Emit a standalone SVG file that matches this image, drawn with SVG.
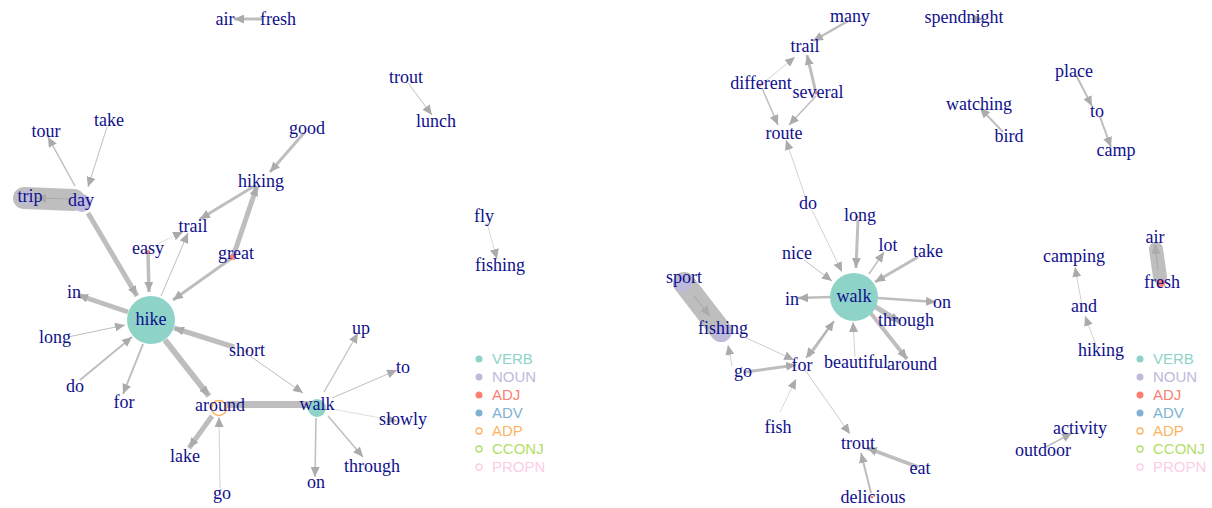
<svg xmlns="http://www.w3.org/2000/svg" width="1212" height="508" viewBox="0 0 1212 508">
  <defs>
    <marker id="ah" markerUnits="userSpaceOnUse" markerWidth="11" markerHeight="9" refX="10" refY="4.5" orient="auto">
      <path d="M0,0 L10,4.5 L0,9 z" fill="#ababab"/>
    </marker>
    <style>
      .e { stroke: #a3a3a3; stroke-opacity: 0.7; fill: none; marker-end: url(#ah); }
      .band { stroke: #a3a3a3; stroke-opacity: 0.7; fill: none; stroke-linecap: round; }
      .lbl { font-family: "Liberation Serif", "Times New Roman", Times, serif; font-size: 18px; fill: #10108c; text-anchor: middle; }
      .leg { font-family: "Liberation Sans", Arial, sans-serif; font-size: 15px; }
      .verb { fill: #8DD3C7; }
      .noun { fill: #BEBADA; }
      .adj { fill: #FB8072; }
      .adp { fill: none; stroke: #FDB462; stroke-width: 1.6; }
    </style>
  </defs>
  <rect width="1212" height="508" fill="#ffffff"/>

  <!-- ===== left network ===== -->
  <g id="edges-left">
    <line class="e" x1="262" y1="19" x2="234" y2="19" stroke-width="3"/>
    <line class="e" x1="408" y1="83" x2="432" y2="115" stroke-width="1"/>
    <line class="e" x1="487" y1="223" x2="497" y2="259" stroke-width="0.6"/>
    <line class="e" x1="304" y1="133" x2="270" y2="172" stroke-width="3"/>
    <line class="e" x1="107" y1="127" x2="88" y2="187" stroke-width="1"/>
    <line class="e" x1="75" y1="186" x2="48" y2="137" stroke-width="1.5"/>
    <line class="band" x1="24" y1="198" x2="74" y2="200" stroke-width="22" stroke-opacity="0.6"/>
    <line class="e" x1="70" y1="199" x2="36" y2="198" stroke-width="1.2"/>
    <line class="e" x1="88" y1="213" x2="137" y2="296" stroke-width="5"/>
    <line class="e" x1="148" y1="254" x2="149" y2="292" stroke-width="3.5"/>
    <line class="e" x1="161" y1="296" x2="188" y2="233" stroke-width="1"/>
    <line class="e" x1="157" y1="244" x2="183" y2="232" stroke-width="0.5"/>
    <line class="e" x1="256" y1="185" x2="200" y2="219" stroke-width="3"/>
    <line class="e" x1="233" y1="257" x2="257" y2="186" stroke-width="5"/>
    <line class="e" x1="232" y1="258" x2="173" y2="300" stroke-width="3"/>
    <line class="e" x1="128" y1="312" x2="78" y2="295" stroke-width="5"/>
    <line class="e" x1="68" y1="337" x2="125" y2="325" stroke-width="1"/>
    <line class="e" x1="80" y1="380" x2="132" y2="337" stroke-width="2"/>
    <line class="e" x1="143" y1="344" x2="123" y2="394" stroke-width="2"/>
    <line class="e" x1="234" y1="347" x2="174" y2="328" stroke-width="5"/>
    <line class="e" x1="250" y1="356" x2="303" y2="393" stroke-width="1"/>
    <line class="e" x1="165" y1="340" x2="209" y2="396" stroke-width="6" stroke="#8e8e8e"/>
    <line class="band" x1="228" y1="404.5" x2="310" y2="404.5" stroke-width="7" stroke="#8e8e8e" stroke-linecap="butt"/>
    <line class="e" x1="212" y1="416" x2="189" y2="448" stroke-width="5"/>
    <line class="e" x1="220" y1="488" x2="219" y2="417" stroke-width="0.7"/>
    <line class="e" x1="324" y1="392" x2="358" y2="333" stroke-width="1.2"/>
    <line class="e" x1="332" y1="398" x2="397" y2="370" stroke-width="1"/>
    <line class="e" x1="327" y1="408" x2="397" y2="421" stroke-width="0.5"/>
    <line class="e" x1="328" y1="416" x2="363" y2="457" stroke-width="1.5"/>
    <line class="e" x1="316" y1="418" x2="315" y2="477" stroke-width="1.5"/>
  </g>

  <g id="node-hike"><circle class="verb" cx="151" cy="320" r="24"/><text class="lbl" x="151" y="325">hike</text></g>
  <g id="node-walk-l"><circle class="verb" cx="317" cy="408" r="9"/><text class="lbl" x="317" y="410">walk</text></g>
  <g id="node-around-l"><circle class="adp" cx="219" cy="408" r="7.5"/><text class="lbl" x="220" y="411">around</text></g>
  <g id="node-day"><circle class="noun" cx="82" cy="203" r="9"/><text class="lbl" x="81" y="206">day</text></g>
  <g id="node-trip"><circle class="noun" cx="27" cy="198" r="9" opacity="0.6"/><text class="lbl" x="30" y="202">trip</text></g>
  <g id="node-easy"><circle class="adj" cx="148" cy="252" r="2"/><text class="lbl" x="148" y="254">easy</text></g>
  <g id="node-great"><circle class="adj" cx="233" cy="257" r="3"/><text class="lbl" x="236" y="259">great</text></g>
  <g id="node-air-l"><text class="lbl" x="225" y="25">air</text></g>
  <g id="node-fresh-l"><text class="lbl" x="278" y="25">fresh</text></g>
  <g id="node-trout-l"><text class="lbl" x="406" y="83">trout</text></g>
  <g id="node-lunch"><text class="lbl" x="436" y="127">lunch</text></g>
  <g id="node-fly"><text class="lbl" x="484" y="222">fly</text></g>
  <g id="node-fishing-l"><text class="lbl" x="500" y="271">fishing</text></g>
  <g id="node-good"><text class="lbl" x="307" y="134">good</text></g>
  <g id="node-hiking-l"><text class="lbl" x="261" y="187">hiking</text></g>
  <g id="node-tour"><text class="lbl" x="46" y="137">tour</text></g>
  <g id="node-take-l"><text class="lbl" x="109" y="126">take</text></g>
  <g id="node-trail-l"><text class="lbl" x="193" y="232">trail</text></g>
  <g id="node-in-l"><text class="lbl" x="74" y="298">in</text></g>
  <g id="node-long-l"><text class="lbl" x="55" y="343">long</text></g>
  <g id="node-do-l"><text class="lbl" x="75" y="392">do</text></g>
  <g id="node-for-l"><text class="lbl" x="124" y="408">for</text></g>
  <g id="node-short"><circle class="adj" cx="247" cy="351" r="1.5"/><text class="lbl" x="247" y="356">short</text></g>
  <g id="node-lake"><text class="lbl" x="185" y="462">lake</text></g>
  <g id="node-go-l"><text class="lbl" x="222" y="499">go</text></g>
  <g id="node-up"><text class="lbl" x="361" y="334">up</text></g>
  <g id="node-to-l"><text class="lbl" x="403" y="373">to</text></g>
  <g id="node-slowly"><text class="lbl" x="403" y="425">slowly</text></g>
  <g id="node-through-l"><text class="lbl" x="372" y="472">through</text></g>
  <g id="node-on-l"><text class="lbl" x="316" y="488">on</text></g>

  <g id="legend-left">
    <circle class="verb" cx="479" cy="359" r="3.5"/><text class="leg" x="492" y="364" fill="#8DD3C7">VERB</text>
    <circle class="noun" cx="479" cy="377" r="3.5"/><text class="leg" x="492" y="382" fill="#BEBADA">NOUN</text>
    <circle class="adj" cx="479" cy="395" r="3.5"/><text class="leg" x="492" y="400" fill="#FB8072">ADJ</text>
    <circle cx="479" cy="413" r="3.5" fill="#80B1D3"/><text class="leg" x="492" y="418" fill="#80B1D3">ADV</text>
    <circle cx="479" cy="431" r="3" fill="none" stroke="#FDB462" stroke-width="1.3"/><text class="leg" x="492" y="436" fill="#FDB462">ADP</text>
    <circle cx="479" cy="449" r="3" fill="none" stroke="#B3DE69" stroke-width="1.3"/><text class="leg" x="492" y="454" fill="#B3DE69">CCONJ</text>
    <circle cx="479" cy="467" r="3" fill="none" stroke="#FCCDE5" stroke-width="1.3"/><text class="leg" x="492" y="472" fill="#FCCDE5">PROPN</text>
  </g>

  <!-- ===== right network ===== -->
  <g id="edges-right">
    <line class="e" x1="848" y1="21" x2="813" y2="41" stroke-width="2.5"/>
    <line class="e" x1="762" y1="84" x2="795" y2="57" stroke-width="0.7"/>
    <line class="e" x1="816" y1="93" x2="807" y2="55" stroke-width="3"/>
    <line class="e" x1="762" y1="88" x2="778" y2="125" stroke-width="1.5"/>
    <line class="e" x1="816" y1="96" x2="789" y2="125" stroke-width="1.5"/>
    <line class="e" x1="805" y1="196" x2="786" y2="140" stroke-width="0.7"/>
    <line class="e" x1="812" y1="210" x2="842" y2="272" stroke-width="0.7"/>
    <line class="e" x1="858" y1="220" x2="856" y2="268" stroke-width="3"/>
    <line class="e" x1="804" y1="260" x2="832" y2="281" stroke-width="1"/>
    <line class="e" x1="869" y1="274" x2="884" y2="252" stroke-width="1.5"/>
    <line class="e" x1="918" y1="257" x2="875" y2="282" stroke-width="3"/>
    <line class="e" x1="830" y1="297" x2="798" y2="298" stroke-width="2.5"/>
    <line class="e" x1="878" y1="298" x2="936" y2="302" stroke-width="2.5"/>
    <line class="e" x1="874" y1="306" x2="900" y2="322" stroke-width="5"/>
    <line class="e" x1="869" y1="311" x2="907" y2="359" stroke-width="4"/>
    <line class="e" x1="855" y1="357" x2="853" y2="322" stroke-width="0.7"/>
    <line class="e" x1="809" y1="357" x2="834" y2="321" stroke-width="2"/>
    <line class="e" x1="832" y1="323" x2="806" y2="358" stroke-width="1.5"/>
    <line class="band" x1="684" y1="283" x2="721" y2="331" stroke-width="22" stroke-opacity="0.65"/>
    <line class="e" x1="694" y1="296" x2="710" y2="316" stroke-width="1.2"/>
    <line class="e" x1="732" y1="366" x2="728" y2="345" stroke-width="0.7"/>
    <line class="e" x1="738" y1="334" x2="794" y2="360" stroke-width="0.8"/>
    <line class="e" x1="745" y1="372" x2="796" y2="365" stroke-width="3"/>
    <line class="e" x1="780" y1="412" x2="796" y2="379" stroke-width="0.6"/>
    <line class="e" x1="805" y1="370" x2="850" y2="434" stroke-width="0.8"/>
    <line class="e" x1="918" y1="467" x2="867" y2="448" stroke-width="3.5"/>
    <line class="e" x1="871" y1="493" x2="861" y2="453" stroke-width="2"/>
    <line class="e" x1="970" y1="19" x2="983" y2="19" stroke-width="1"/>
    <line class="e" x1="1076" y1="75" x2="1092" y2="106" stroke-width="2"/>
    <line class="e" x1="1100" y1="117" x2="1111" y2="147" stroke-width="2"/>
    <line class="e" x1="1003" y1="132" x2="980" y2="108" stroke-width="2"/>
    <line class="e" x1="1097" y1="348" x2="1085" y2="316" stroke-width="0.7"/>
    <line class="e" x1="1083" y1="311" x2="1075" y2="267" stroke-width="0.7"/>
    <line class="band" x1="1156" y1="249" x2="1160" y2="277" stroke-width="14" stroke-opacity="0.65" stroke-linecap="butt"/>
    <line class="e" x1="1158" y1="270" x2="1155" y2="244" stroke-width="1.2"/>
    <line class="e" x1="1046" y1="447" x2="1072" y2="433" stroke-width="1.5"/>
  </g>

  <g id="node-walk-r"><circle class="verb" cx="854" cy="297" r="24"/><text class="lbl" x="854" y="302">walk</text></g>
  <g id="node-sport"><circle class="noun" cx="683" cy="283" r="9"/><text class="lbl" x="684" y="283">sport</text></g>
  <g id="node-fishing-r"><circle class="noun" cx="722" cy="333" r="9"/><text class="lbl" x="723" y="334">fishing</text></g>
  <g id="node-fresh-r"><circle class="adj" cx="1161" cy="283" r="4"/><text class="lbl" x="1162" y="288">fresh</text></g>
  <g id="node-air-r"><text class="lbl" x="1155" y="243">air</text></g>
  <g id="node-many"><text class="lbl" x="850" y="22">many</text></g>
  <g id="node-spendnight"><text class="lbl" x="964" y="23">spendnight</text></g>
  <g id="node-trail-r"><text class="lbl" x="805" y="52">trail</text></g>
  <g id="node-different"><circle class="adj" cx="760" cy="85" r="1.5"/><text class="lbl" x="761" y="89">different</text></g>
  <g id="node-several"><circle class="adj" cx="816" cy="93" r="1.5"/><text class="lbl" x="818" y="98">several</text></g>
  <g id="node-route"><text class="lbl" x="784" y="139">route</text></g>
  <g id="node-place"><text class="lbl" x="1074" y="77">place</text></g>
  <g id="node-to-r"><text class="lbl" x="1097" y="117">to</text></g>
  <g id="node-camp"><text class="lbl" x="1116" y="156">camp</text></g>
  <g id="node-watching"><text class="lbl" x="979" y="110">watching</text></g>
  <g id="node-bird"><text class="lbl" x="1009" y="142">bird</text></g>
  <g id="node-do-r"><text class="lbl" x="808" y="209">do</text></g>
  <g id="node-long-r"><circle class="adj" cx="857" cy="217" r="1.5"/><text class="lbl" x="860" y="221">long</text></g>
  <g id="node-nice"><text class="lbl" x="797" y="259">nice</text></g>
  <g id="node-lot"><text class="lbl" x="888" y="251">lot</text></g>
  <g id="node-take-r"><text class="lbl" x="928" y="257">take</text></g>
  <g id="node-in-r"><text class="lbl" x="792" y="305">in</text></g>
  <g id="node-on-r"><text class="lbl" x="942" y="308">on</text></g>
  <g id="node-through-r"><text class="lbl" x="906" y="326">through</text></g>
  <g id="node-around-r"><text class="lbl" x="912" y="370">around</text></g>
  <g id="node-beautiful"><text class="lbl" x="856" y="368">beautiful</text></g>
  <g id="node-for-r"><text class="lbl" x="802" y="371">for</text></g>
  <g id="node-go-r"><text class="lbl" x="743" y="377">go</text></g>
  <g id="node-fish"><text class="lbl" x="778" y="433">fish</text></g>
  <g id="node-trout-r"><text class="lbl" x="858" y="449">trout</text></g>
  <g id="node-eat"><text class="lbl" x="920" y="474">eat</text></g>
  <g id="node-delicious"><circle class="adj" cx="872" cy="497" r="1.5"/><text class="lbl" x="873" y="503">delicious</text></g>
  <g id="node-camping"><text class="lbl" x="1074" y="262">camping</text></g>
  <g id="node-and"><text class="lbl" x="1084" y="312">and</text></g>
  <g id="node-hiking-r"><text class="lbl" x="1101" y="356">hiking</text></g>
  <g id="node-activity"><text class="lbl" x="1080" y="434">activity</text></g>
  <g id="node-outdoor"><text class="lbl" x="1043" y="456">outdoor</text></g>

  <g id="legend-right">
    <circle class="verb" cx="1140" cy="359" r="3.5"/><text class="leg" x="1153" y="364" fill="#8DD3C7">VERB</text>
    <circle class="noun" cx="1140" cy="377" r="3.5"/><text class="leg" x="1153" y="382" fill="#BEBADA">NOUN</text>
    <circle class="adj" cx="1140" cy="395" r="3.5"/><text class="leg" x="1153" y="400" fill="#FB8072">ADJ</text>
    <circle cx="1140" cy="413" r="3.5" fill="#80B1D3"/><text class="leg" x="1153" y="418" fill="#80B1D3">ADV</text>
    <circle cx="1140" cy="431" r="3" fill="none" stroke="#FDB462" stroke-width="1.3"/><text class="leg" x="1153" y="436" fill="#FDB462">ADP</text>
    <circle cx="1140" cy="449" r="3" fill="none" stroke="#B3DE69" stroke-width="1.3"/><text class="leg" x="1153" y="454" fill="#B3DE69">CCONJ</text>
    <circle cx="1140" cy="467" r="3" fill="none" stroke="#FCCDE5" stroke-width="1.3"/><text class="leg" x="1153" y="472" fill="#FCCDE5">PROPN</text>
  </g>
</svg>
